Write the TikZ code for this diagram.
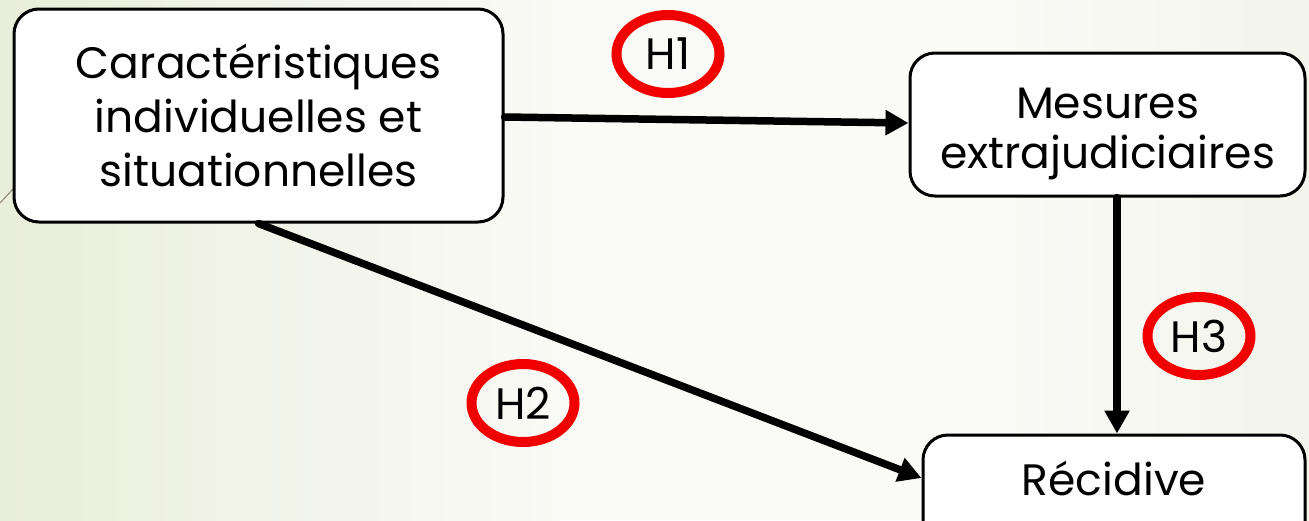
\documentclass[tikz,border=0pt]{standalone}
\usepackage{fontspec}
\setmainfont{Poppins}
\usetikzlibrary{arrows.meta,shapes.geometric}
\definecolor{bgin}{RGB}{250,250,246}
\definecolor{bgout}{RGB}{233,238,218}
\definecolor{bgright}{RGB}{243,245,235}
\definecolor{deco}{RGB}{140,132,112}
\definecolor{hypred}{RGB}{240,0,0}
\begin{document}
\begin{tikzpicture}[x=1pt,y=-1pt,
  box/.style={draw=black,line width=3pt,fill=white,rounded corners=25pt,align=center,
    font=\fontsize{44}{54}\selectfont,inner sep=0pt},
  hyp/.style={ellipse,draw=hypred,line width=10pt,font=\fontsize{44}{54}\selectfont,
    inner sep=0pt,minimum width=103pt,minimum height=78pt},
  link/.style={line width=7.5pt,line cap=round,-{Triangle[length=23pt,width=24pt]}}]
\useasboundingbox (0,0) rectangle (1309,520);
\clip (0,0) rectangle (1309,520);
\fill[bgin] (0,0) rectangle (1309,520);
\shade[left color=bgout,right color=bgin] (0,0) rectangle (560,520);
\shade[left color=bgin,right color=bgright] (1000,0) rectangle (1309,520);
\draw[deco,line width=1pt] (0,203) -- (40,160);
\node[box,minimum width=489pt,minimum height=213pt] (b1) at (258.5,115.5)
  {Caractéristiques\\individuelles et\\situationnelles};
\node[box,minimum width=395pt,minimum height=143pt,font=\fontsize{44}{50}\selectfont] (b2) at (1107.5,124.5)
  {\rule{0pt}{50pt}Mesures\\extrajudiciaires};
\node[box,minimum width=382pt,minimum height=114pt,text height=30pt,text depth=24pt] (b3) at (1114,492)
  {Récidive};
\node[hyp] (h1) at (668,54) {H1};
\node[hyp] (h2) at (523,403) {H2};
\node[hyp] (h3) at (1199,336) {H3};
\draw[link] ([yshift=-1.5pt]b1.east) -- ([yshift=1.5pt]b2.west);
\draw[link] (b1.south) -- ([yshift=14pt]b3.west);
\draw[link] ([xshift=9.5pt]b2.south) -- ([xshift=3pt]b3.north);
\end{tikzpicture}
\end{document}
